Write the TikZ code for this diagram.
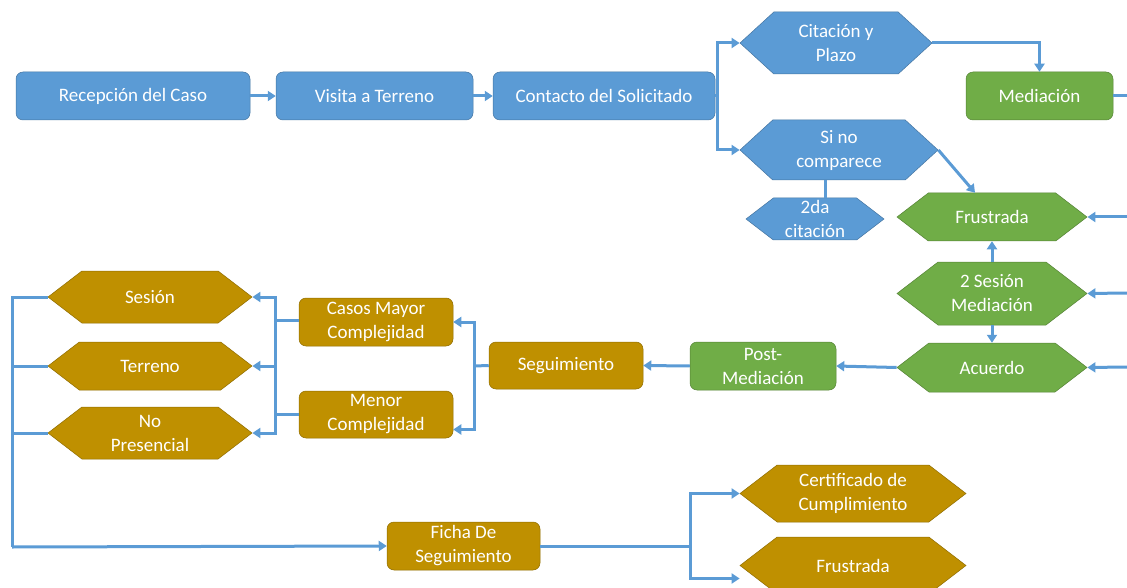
\documentclass[tikz,border=0pt]{standalone}
\usepackage{fontspec}
\setmainfont{Carlito}
\usepackage{xcolor}
\usepackage{tikz}
\usetikzlibrary{shapes,arrows.meta,positioning,calc}

\definecolor{azul}{HTML}{5B9BD5}
\definecolor{verde}{HTML}{70AD47}
\definecolor{oro}{HTML}{BF9000}

\begin{document}
\begin{tikzpicture}[x=1pt,y=-1pt,
    caja/.style={rectangle, rounded corners=7pt, draw=#1!75!black, line width=0.5pt,
        fill=#1, text=white, align=center, inner sep=0pt,
        font=\fontsize{19}{24}\selectfont},
    hexa/.style={signal, signal to=west and east, signal pointer angle=75,
        draw=#1!75!black, line width=0.5pt, fill=#1, text=white, align=center,
        inner sep=0pt, font=\fontsize{19}{24}\selectfont},
    flecha/.style={draw=azul, line width=3pt, -{Triangle[length=8pt,width=10pt]}},
    linea/.style={draw=azul, line width=3pt}]
    \useasboundingbox (0,0) rectangle (1127,588);
    \clip (0,0) rectangle (1127,588);

    % Inicio
    \node[caja=azul, minimum width=234pt, minimum height=48pt] (recep) at (133,96) {Recepción del Caso};
    \node[caja=azul, minimum width=197pt, minimum height=48pt] (visita) at (374.5,96) {Visita a Terreno};
    \node[caja=azul, minimum width=222pt, minimum height=48pt] (contacto) at (604,96) {Contacto del Solicitado};
    \node[hexa=azul, signal pointer angle=85, minimum width=192pt, minimum height=62pt] (citacion) at (836,43) {Citación y\\Plazo};
    \node[hexa=azul, signal pointer angle=85, minimum width=198pt, minimum height=60pt] (sino) at (839,150) {Si no\\comparece};
    \node[hexa=azul, minimum width=138pt, minimum height=42pt] (cita2) at (815,219) {2da\\citación};

    % Mediacion
    \node[caja=verde, minimum width=147pt, minimum height=48pt] (mediacion) at (1039.5,96) {Mediación};
    \node[hexa=verde, minimum width=190pt, minimum height=48pt] (frustrada) at (992,217) {Frustrada};
    \node[hexa=verde, minimum width=190pt, minimum height=63pt] (sesion2) at (992,293.5) {2 Sesión\\Mediación};
    \node[hexa=verde, minimum width=190pt, minimum height=49pt] (acuerdo) at (992,367.5) {Acuerdo};
    \node[caja=verde, minimum width=146pt, minimum height=48pt] (post) at (763,366) {Post-\\Mediación};

    % Seguimiento
    \node[caja=oro, minimum width=154pt, minimum height=47pt] (seguim) at (566,365.5) {Seguimiento};
    \node[caja=oro, minimum width=154pt, minimum height=48pt] (mayor) at (376,322) {Casos Mayor\\Complejidad};
    \node[caja=oro, minimum width=154pt, minimum height=47pt] (menor) at (376,414.5) {Menor\\Complejidad};
    \node[hexa=oro, minimum width=204pt, minimum height=52pt] (sesion) at (150,297) {Sesión};
    \node[hexa=oro, minimum width=204pt, minimum height=48pt] (terreno) at (150,366) {Terreno};
    \node[hexa=oro, minimum width=204pt, minimum height=52pt] (nopres) at (150,433) {No\\Presencial};
    \node[caja=oro, minimum width=153pt, minimum height=48pt] (ficha) at (463.5,546) {Ficha De\\Seguimiento};
    \node[hexa=oro, minimum width=226pt, minimum height=57pt] (certif) at (853,493.5) {Certificado de\\Cumplimiento};
    \node[hexa=oro, minimum width=226pt, minimum height=57pt] (frustrada2) at (853,565.5) {Frustrada};

    % puntos de union
    \coordinate (b1) at (717,96);
    \coordinate (b2) at (474,366);
    \coordinate (b3) at (275,320);
    \coordinate (b4) at (12,297);
    \coordinate (b5) at (12,547);
    \coordinate (b6) at (690,546);
    \coordinate (d0) at (1127,96);
    \coordinate (d1) at (1127,217);
    \coordinate (d2) at (1127,293);
    \coordinate (d3) at (1127,367);

    % conectores
    \draw[flecha] (recep) -- (visita);
    \draw[flecha] (visita) -- (contacto);
    \draw[linea] (contacto.east) -- (b1);
    \draw[flecha] (b1) |- (citacion.west);
    \draw[flecha] (b1) |- (sino.west);
    \draw[linea] ([xshift=10pt]cita2.north) -- ([xshift=-14pt]sino.south);
    \draw[flecha] (sino.east) -- ([xshift=-17pt]frustrada.north);
    \draw[flecha] (citacion.east) -| (mediacion.north);
    \draw[linea] (mediacion.east) -- (d0);
    \draw[flecha] (d1) -- (frustrada.east);
    \draw[flecha] (d2) -- (sesion2.east);
    \draw[flecha] (d3) -- (acuerdo.east);
    \draw[flecha] (sesion2.north) -- (frustrada.south);
    \draw[flecha] (sesion2.south) -- (acuerdo.north);
    \draw[flecha] (acuerdo.west) -- (post.east);
    \draw[flecha] (post.west) -- (seguim.east);
    \draw[linea] (seguim.west) -- (b2);
    \draw[flecha] (b2) |- (mayor.east);
    \draw[flecha] (b2) |- ([yshift=-15pt]menor.east);
    \draw[linea] ([yshift=2pt]mayor.west) -- (b3);
    \draw[linea] (menor.west) -- (menor.west -| b3);
    \draw[flecha] (b3) |- (sesion.east);
    \draw[flecha] (b3) |- (terreno.east);
    \draw[flecha] (b3) |- (nopres.east);
    \draw[linea] (sesion.west) -- (b4) -- (b5);
    \draw[linea] (terreno.west) -- (terreno.west -| b4);
    \draw[linea] (nopres.west) -- (nopres.west -| b4);
    \draw[flecha] (b5) -- (ficha.west);
    \draw[linea] (ficha.east) -- (b6);
    \draw[flecha] (b6) |- (certif.west);
    \draw[flecha] (b6) |- ([yshift=-13pt]frustrada2.west);
\end{tikzpicture}
\end{document}
